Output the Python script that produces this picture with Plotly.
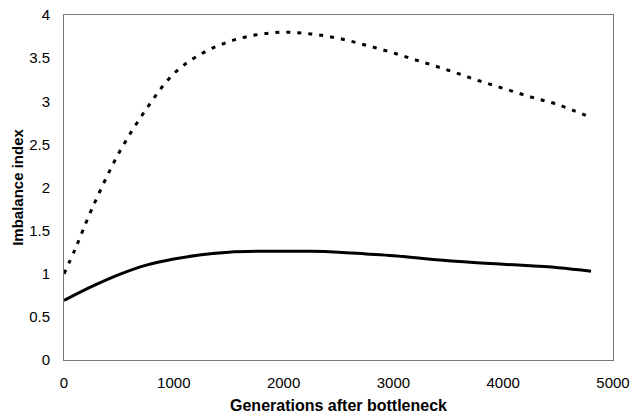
import plotly.graph_objects as go

# Data
gen_solid = [0, 250, 500, 750, 1000, 1250, 1500, 1750, 2000, 2250, 2500, 2750, 3000, 3500, 4000, 4500, 4800]
imb_solid = [0.69, 0.85, 0.99, 1.10, 1.17, 1.22, 1.25, 1.26, 1.26, 1.26, 1.25, 1.23, 1.21, 1.15, 1.11, 1.07, 1.03]

gen_dash = [0, 100, 250, 500, 750, 1000, 1250, 1500, 1750, 2000, 2250, 2500, 2750, 3000, 3250, 3500, 3750, 4000, 4250, 4500, 4800]
imb_dash = [1.0, 1.28, 1.74, 2.40, 2.91, 3.32, 3.55, 3.69, 3.77, 3.80, 3.78, 3.73, 3.65, 3.56, 3.46, 3.36, 3.25, 3.15, 3.05, 2.96, 2.81]

x_ticks = [0, 1000, 2000, 3000, 4000, 5000]
y_ticks = [0, 0.5, 1, 1.5, 2, 2.5, 3, 3.5, 4]
y_tick_text = ["0", "0.5", "1", "1.5", "2", "2.5", "3", "3.5", "4"]

fig = go.Figure()
fig.add_trace(go.Scatter(x=gen_dash, y=imb_dash, mode="lines",
                         line=dict(color="black", width=3, dash="4px,7px", shape="spline"),
                         showlegend=False))
fig.add_trace(go.Scatter(x=gen_solid, y=imb_solid, mode="lines",
                         line=dict(color="black", width=3, shape="spline"),
                         showlegend=False))

font_family = "Liberation Sans, Arial, sans-serif"
fig.update_layout(
    width=630, height=418,
    margin=dict(l=64, r=17, t=15, b=58),
    paper_bgcolor="white", plot_bgcolor="white",
    font=dict(family=font_family, color="black", size=15),
    xaxis=dict(range=[0, 5000], tickvals=x_ticks, showgrid=False, zeroline=False,
               showline=True, linecolor="#777", linewidth=1, mirror=True, automargin=False,
               ticks="", tickfont=dict(size=15), ticklabelstandoff=9,
               title=dict(text="<b>Generations after bottleneck</b>", font=dict(size=16), standoff=9)),
    yaxis=dict(range=[0, 4], tickvals=y_ticks, ticktext=y_tick_text, showgrid=False, zeroline=False,
               showline=True, linecolor="#777", linewidth=1, mirror=True, automargin=False,
               ticks="", tickfont=dict(size=15), ticklabelstandoff=10,
               title=dict(text="<b>Imbalance index</b>", font=dict(size=15), standoff=1)),
)

fig.write_html("out.html", config={"displayModeBar": False},
               post_script="document.body.style.margin='0';document.body.style.overflow='hidden';")
